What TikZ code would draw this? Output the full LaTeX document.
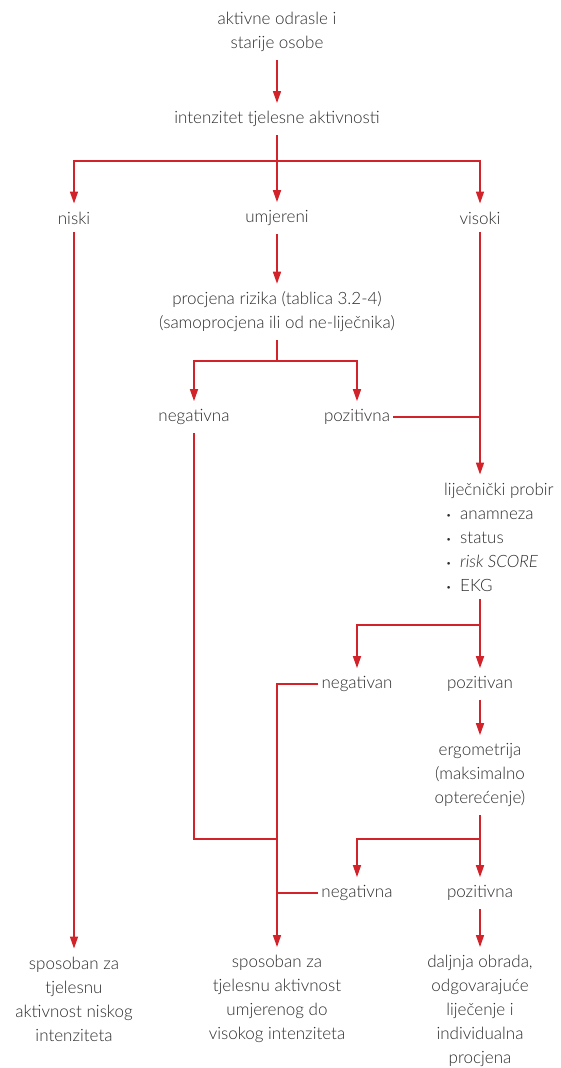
\documentclass[tikz,border=0pt]{standalone}
\usepackage{fontspec}
\setmainfont{Lato Light}[ItalicFont={Lato Light Italic}]
\usetikzlibrary{arrows.meta}
\definecolor{flowred}{HTML}{D2232A}
\definecolor{flowtext}{HTML}{2B2B2B}
\newcommand{\probirpt}{\makebox[16pt][l]{\hspace{2pt}\raisebox{1pt}{\fontsize{9}{9}\selectfont\textbullet}}}
\begin{document}
\begin{tikzpicture}[x=1pt,y=-1pt,
    txt/.style={text=flowtext, font=\fontsize{17}{24}\selectfont, align=center, inner xsep=3pt, inner ysep=8pt},
    conn/.style={draw=flowred, line width=1.6pt},
    arr/.style={conn, -{Triangle[length=12pt,width=8pt]}}]
  \useasboundingbox (0,0) rectangle (561,1068);
  % nodes
  \node[txt] (top) at (277,32) {aktivne odrasle i\\starije osobe};
  \node[txt] (int) at (277,119) {intenzitet tjelesne aktivnosti};
  \node[txt] (niski) at (74,218) {niski};
  \node[txt] (umj) at (277,218) {umjereni};
  \node[txt] (vis) at (480,218) {visoki};
  \node[txt] (proc) at (277,312) {procjena rizika (tablica 3.2-4)\\(samoprocjena ili od ne-liječnika)};
  \node[txt] (neg1) at (194,417) {negativna};
  \node[txt] (poz1) at (357,417) {pozitivna};
  \node[txt, align=left, anchor=west] (lij) at (441,537) {liječnički probir\\
    \probirpt anamneza\\ \probirpt status\\ \probirpt\textit{risk SCORE}\\ \probirpt EKG};
  \node[txt] (neg2) at (357,684) {negativan};
  \node[txt] (poz2) at (480,684) {pozitivan};
  \node[txt] (erg) at (480,775) {ergometrija\\(maksimalno\\opterećenje)};
  \node[txt] (neg3) at (357,893) {negativna};
  \node[txt] (poz3) at (480,893) {pozitivna};
  \node[txt] (out1) at (74,999) {sposoban za\\tjelesnu\\aktivnost niskog\\intenziteta};
  \node[txt] (out2) at (277,999) {sposoban za\\tjelesnu aktivnost\\umjerenog do\\visokog intenziteta};
  \node[txt] (out3) at (480,1011) {daljnja obrada,\\odgovarajuće\\liječenje i\\individualna\\procjena};
  % branch points
  \coordinate (b1) at (277,161);
  \coordinate (b2) at (277,361);
  \coordinate (b3) at (480,625);
  \coordinate (b4) at (480,839);
  % connectors
  \draw[arr] (top) -- (int);
  \draw[conn] (int) -- (b1);
  \draw[arr] (b1) -| (niski);
  \draw[arr] (b1) -- (umj);
  \draw[arr] (b1) -| (vis);
  \draw[arr] (niski) -- (out1);
  \draw[arr] (umj) -- (proc);
  \draw[conn] (proc) -- (b2);
  \draw[arr] (b2) -| (neg1);
  \draw[arr] (b2) -| (poz1);
  \draw[arr] (vis) -- (vis |- lij.north);
  \draw[conn] (poz1) -- (vis |- poz1);
  \draw[conn] (neg1) |- (out2 |- b4);
  \draw[conn] (vis |- lij.south) -- (b3);
  \draw[arr] (b3) -| (neg2);
  \draw[arr] (b3) -- (poz2);
  \draw[arr] (neg2) -| (out2);
  \draw[arr] (poz2) -- (erg);
  \draw[conn] (erg) -- (b4);
  \draw[arr] (b4) -| (neg3);
  \draw[arr] (b4) -- (poz3);
  \draw[conn] (neg3) -- (out2 |- neg3);
  \draw[arr] (poz3) -- (out3);
\end{tikzpicture}
\end{document}
